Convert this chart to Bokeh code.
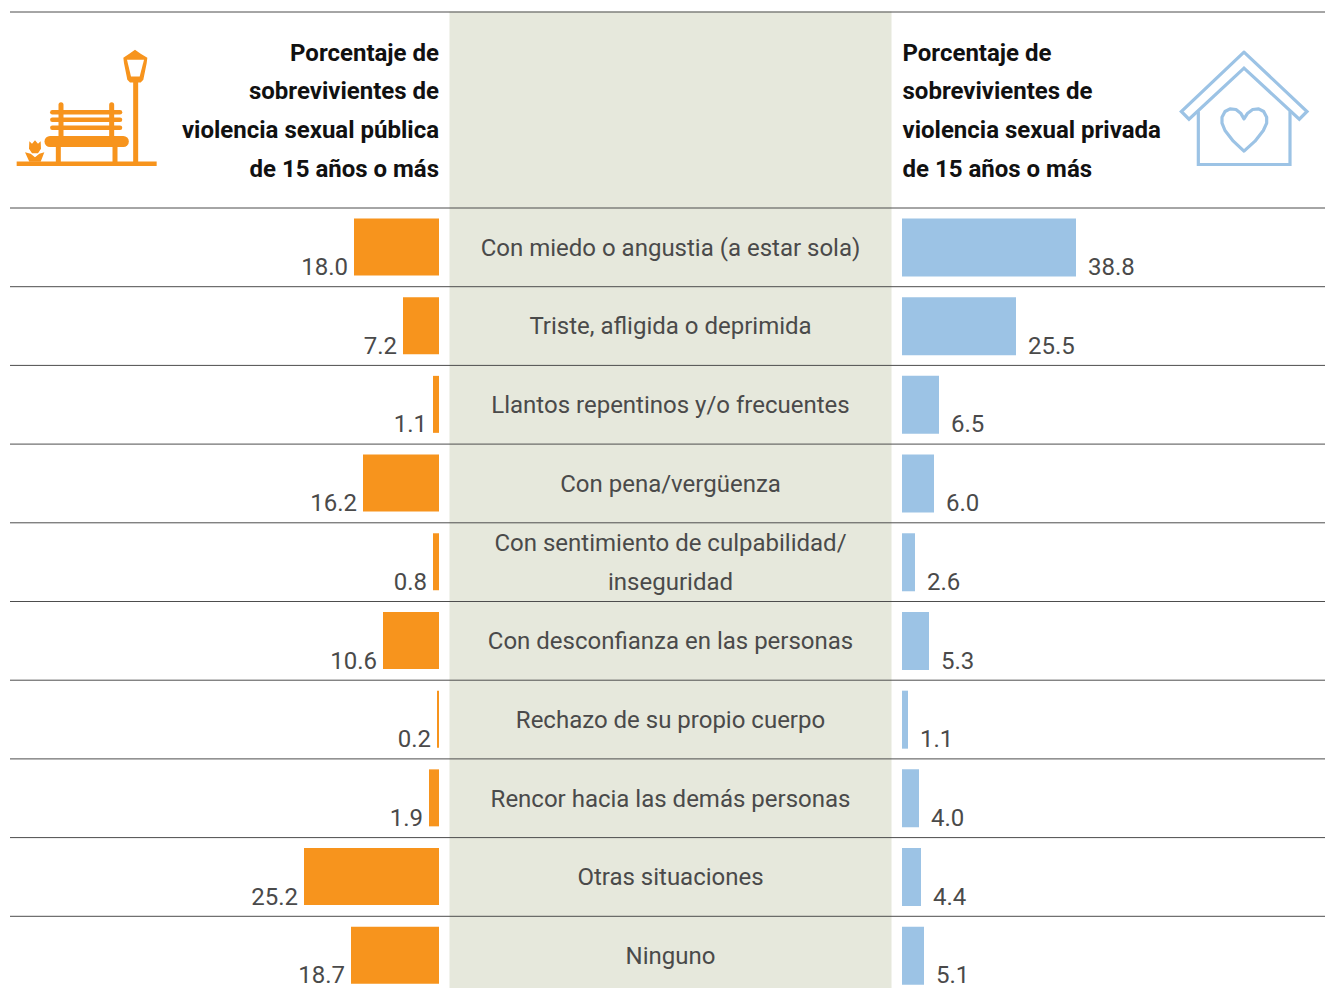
from bokeh.core.properties import value
from bokeh.embed import file_html
from bokeh.models import Range1d
from bokeh.plotting import figure
from bokeh.resources import INLINE

# ---- data ----
categories = [
    "Con miedo o angustia (a estar sola)",
    "Triste, afligida o deprimida",
    "Llantos repentinos y/o frecuentes",
    "Con pena/vergüenza",
    "Con sentimiento de culpabilidad/\ninseguridad",
    "Con desconfianza en las personas",
    "Rechazo de su propio cuerpo",
    "Rencor hacia las demás personas",
    "Otras situaciones",
    "Ninguno",
]
public_labels = ["18.0", "7.2", "1.1", "16.2", "0.8", "10.6", "0.2", "1.9", "25.2", "18.7"]
private_labels = ["38.8", "25.5", "6.5", "6.0", "2.6", "5.3", "1.1", "4.0", "4.4", "5.1"]
# Bar lengths as actually drawn in the source, which are not proportional to its labels
public_drawn = [17.0, 7.2, 1.2, 15.2, 1.2, 11.2, 0.4, 2.0, 27.0, 17.6]
private_drawn = [34.8, 22.8, 7.4, 6.4, 2.6, 5.4, 1.2, 3.4, 3.8, 4.4]
header_public = ["Porcentaje de", "sobrevivientes de", "violencia sexual pública", "de 15 años o más"]
header_private = ["Porcentaje de", "sobrevivientes de", "violencia sexual privada", "de 15 años o más"]

ORANGE = "#F7941D"
BLUE = "#9CC3E5"
BAND = "#E6E8DC"
RULE = "#4d4d4d"
TEXT = "#4a4a4a"
FONT = value("Roboto")
TEXT_SHIFT = -8

W, H = 1325, 988
SX = 0.5
ROW0, PITCH = 207.5, 78.7
PX_PER_UNIT = 5.0
ZERO_L, ZERO_R = 439.0, 902.0


def row_of(py):
    return (py - ROW0) / PITCH


p = figure(
    width=W, height=H, output_backend="svg", toolbar_location=None,
    x_axis_type=None, y_axis_type=None, min_border=0,
    x_range=Range1d(SX, W + SX),
    y_range=Range1d(row_of(H), row_of(0)),
    outline_line_color=None, background_fill_color="white", border_fill_color="white",
)
p.grid.visible = False
p.extra_y_ranges["px"] = Range1d(H, 0)
p.extra_x_ranges["public"] = Range1d((ZERO_L - SX) / PX_PER_UNIT, (ZERO_L - W - SX) / PX_PER_UNIT)
p.extra_x_ranges["private"] = Range1d((SX - ZERO_R) / PX_PER_UNIT, (W + SX - ZERO_R) / PX_PER_UNIT)

# centre band
p.quad(left=[449.5], right=[891.5], top=[11], bottom=[H], color=BAND, line_color=None, y_range_name="px")

# rules
rows = list(range(len(categories)))
p.segment(x0=[10] * 11, x1=[1326] * 11, y0=[row_of(11.5)] + rows, y1=[row_of(11.5)] + rows,
          line_color=RULE, line_width=1)

# bars
p.quad(left=0, right=public_drawn, top=[r + 0.133 for r in rows], bottom=[r + 0.857 for r in rows],
       color=ORANGE, line_color=None, x_range_name="public")
p.quad(left=0, right=private_drawn, top=[r + 0.133 for r in rows], bottom=[r + 0.870 for r in rows],
       color=BLUE, line_color=None, x_range_name="private")

# value labels
p.text(x=public_drawn, y=[r + 0.845 for r in rows], text=public_labels, x_range_name="public",
       x_offset=-6, y_offset=TEXT_SHIFT, text_align="right", text_baseline="alphabetic",
       text_font=FONT, text_font_size="24px", text_color=TEXT)
p.text(x=private_drawn, y=[r + 0.845 for r in rows], text=private_labels, x_range_name="private",
       x_offset=12, y_offset=TEXT_SHIFT, text_align="left", text_baseline="alphabetic",
       text_font=FONT, text_font_size="24px", text_color=TEXT)

# centre labels
cat_x, cat_y, cat_t = [], [], []
for r, c in zip(rows, categories):
    lines = c.split("\n")
    for k, line in enumerate(lines):
        cat_x.append(670.5)
        cat_y.append(r + 0.606 + (k - (len(lines) - 1) / 2) * 39 / PITCH)
        cat_t.append(line)
p.text(x=cat_x, y=cat_y, text=cat_t, y_offset=TEXT_SHIFT, text_align="center", text_baseline="alphabetic",
       text_font=FONT, text_font_size="24px", text_color=TEXT)

# headers
head_y = [60, 98.7, 137.5, 176]
p.text(x=[439] * 4, y=head_y, text=header_public, y_range_name="px", y_offset=TEXT_SHIFT, text_align="right",
       text_baseline="alphabetic", text_font=FONT, text_font_size="24px",
       text_font_style="bold", text_color="#111111")
p.text(x=[902.5] * 4, y=head_y, text=header_private, y_range_name="px", y_offset=TEXT_SHIFT, text_align="left",
       text_baseline="alphabetic", text_font=FONT, text_font_size="24px",
       text_font_style="bold", text_color="#111111")


# ---- icons (decoration), shapes given in local units ----
def bench_xy(pts):
    return [x / 3 + 10 for x, _ in pts], [y / 3 + 40 for _, y in pts]


def house_xy(pts):
    return [x / 3 + 1170 for x, _ in pts], [y / 3 + 40 for _, y in pts]


def stroke(xy, color, w, cap="round", join="round"):
    xs, ys = xy
    p.line(xs, ys, line_color=color, line_width=w, line_cap=cap, line_join=join, y_range_name="px")


def fill(xy, color):
    xs, ys = xy
    p.patch(xs, ys, fill_color=color, line_color=None, y_range_name="px")


# bench icon
stroke(bench_xy([(20, 370), (440, 370)]), ORANGE, 4.5, cap="butt")
stroke(bench_xy([(377, 120), (377, 370)]), ORANGE, 5, cap="butt")
fill(bench_xy([(340, 52), (358, 40), (375, 28), (392, 40), (412, 52), (410, 68), (400, 118), (392, 126),
               (360, 126), (352, 118), (342, 68)]), ORANGE)
fill(bench_xy([(351, 58), (402, 58), (389, 108), (363, 108)]), "white")
stroke(bench_xy([(120, 303), (340, 303)]), ORANGE, 11)
for x in (145, 315):
    stroke(bench_xy([(x, 315), (x, 368)]), ORANGE, 5, cap="butt")
for x in (153, 305):
    stroke(bench_xy([(x, 193), (x, 295)]), ORANGE, 5)
for y in (215, 238, 262):
    stroke(bench_xy([(127, y), (330, y)]), ORANGE, 4.5)
fill(bench_xy([(58, 302), (66, 310), (75, 299), (84, 310), (92, 302), (93, 325), (84, 338), (66, 338), (57, 325)]), ORANGE)
fill(bench_xy([(45, 335), (62, 340), (75, 350), (88, 340), (103, 335), (92, 364), (58, 364)]), ORANGE)

# house icon
roof = [(222, 35), (411, 213), (388, 236), (222, 83), (57, 236), (34, 213), (222, 35)]
stroke(house_xy(roof), BLUE, 3.2, join="miter")
stroke(house_xy([(85, 212), (85, 372), (360, 372), (360, 212)]), BLUE, 3.2, cap="butt", join="miter")
heart = [(222, 235), (212, 218), (198, 207), (180, 205), (165, 213), (156, 230), (156, 248), (165, 270),
         (190, 302), (222, 332), (255, 302), (280, 270), (290, 248), (290, 230), (281, 213), (266, 205),
         (248, 207), (233, 218), (222, 235)]
stroke(house_xy(heart), BLUE, 3.2)

open("out.html", "w").write(file_html(p, INLINE))
